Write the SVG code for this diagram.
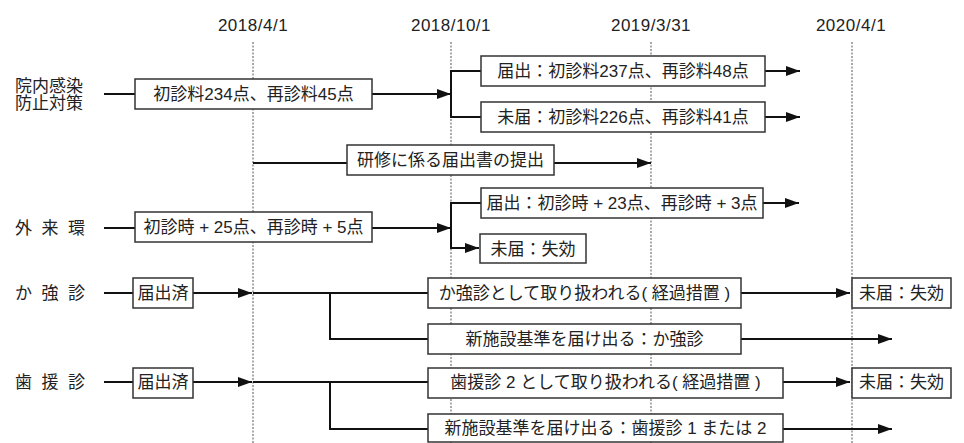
<svg xmlns="http://www.w3.org/2000/svg" width="964" height="443" viewBox="0 0 964 443">
<style>
text{font-family:"Liberation Sans","Noto Sans CJK JP",sans-serif;font-size:17px;fill:#222}
.c{text-anchor:middle}
.lab{letter-spacing:2.4px}
.box{fill:#fff;stroke:#333;stroke-width:1.5}
.grid{stroke:#555;stroke-width:1;stroke-dasharray:2 1.5;fill:none}
.ln{stroke:#111;stroke-width:2;fill:none}
.ar{marker-end:url(#ah)}
.date{text-anchor:middle;letter-spacing:0.5px}
</style>
<defs>
<marker id="ah" markerUnits="userSpaceOnUse" markerWidth="15" markerHeight="11" refX="14" refY="5" orient="auto" overflow="visible">
<path d="M0,0 L14,5 L0,10 z" fill="#111"/>
</marker>
</defs>
<rect width="964" height="443" fill="#fff"/>
<g id="axis">
<line class="grid" x1="253" y1="42" x2="253" y2="443"/>
<line class="grid" x1="451" y1="42" x2="451" y2="443"/>
<line class="grid" x1="651" y1="42" x2="651" y2="443"/>
<line class="grid" x1="852" y1="42" x2="852" y2="443"/>
<text class="date" x="253" y="31">2018/4/1</text>
<text class="date" x="451" y="31">2018/10/1</text>
<text class="date" x="651" y="31">2019/3/31</text>
<text class="date" x="851" y="31">2020/4/1</text>
</g>
<g id="labels">
<text x="15" y="91.5">院内感染</text>
<text x="15" y="109">防止対策</text>
<text class="lab" x="15" y="234">外 来 環</text>
<text class="lab" x="15" y="299">か 強 診</text>
<text class="lab" x="15" y="388">歯 援 診</text>
</g>
<g id="connectors">
<line class="ln" x1="104" y1="94" x2="135" y2="94"/>
<line class="ln ar" x1="372" y1="94" x2="451" y2="94"/>
<line class="ln" x1="451" y1="71" x2="451" y2="117"/>
<line class="ln" x1="450" y1="71" x2="481" y2="71"/>
<line class="ln" x1="450" y1="117" x2="481" y2="117"/>
<line class="ln ar" x1="765" y1="71" x2="800" y2="71"/>
<line class="ln ar" x1="765" y1="117" x2="800" y2="117"/>
<line class="ln" x1="253" y1="163" x2="347" y2="163"/>
<line class="ln ar" x1="554" y1="163" x2="651" y2="163"/>
<line class="ln" x1="104" y1="228" x2="135" y2="228"/>
<line class="ln ar" x1="372" y1="228" x2="451" y2="228"/>
<line class="ln" x1="451" y1="203" x2="451" y2="249"/>
<line class="ln" x1="450" y1="203" x2="481" y2="203"/>
<line class="ln ar" x1="450" y1="248" x2="479" y2="248"/>
<line class="ln ar" x1="763" y1="203" x2="799" y2="203"/>
<line class="ln" x1="104" y1="293" x2="133" y2="293"/>
<line class="ln ar" x1="193" y1="293" x2="252" y2="293"/>
<line class="ln" x1="253" y1="293" x2="428" y2="293"/>
<polyline class="ln" points="330,293 330,339 428,339"/>
<line class="ln ar" x1="741" y1="293" x2="850" y2="293"/>
<line class="ln ar" x1="741" y1="339" x2="892" y2="339"/>
<line class="ln" x1="104" y1="382" x2="133" y2="382"/>
<line class="ln ar" x1="193" y1="382" x2="252" y2="382"/>
<line class="ln" x1="253" y1="382" x2="428" y2="382"/>
<polyline class="ln" points="330,382 330,429 428,429"/>
<line class="ln ar" x1="783" y1="382" x2="850" y2="382"/>
<line class="ln ar" x1="783" y1="429" x2="892" y2="429"/>
</g>
<g id="n1"><rect class="box" x="135" y="79" width="237" height="30"/><text class="c" x="253.5" y="100">初診料234点、再診料45点</text></g>
<g id="n2"><rect class="box" x="481" y="56" width="284" height="30"/><text class="c" x="623" y="77">届出：初診料237点、再診料48点</text></g>
<g id="n3"><rect class="box" x="481" y="102" width="284" height="30"/><text class="c" x="623" y="123">未届：初診料226点、再診料41点</text></g>
<g id="n4"><rect class="box" x="347" y="145" width="207" height="30"/><text class="c" x="450.5" y="166">研修に係る届出書の提出</text></g>
<g id="n5"><rect class="box" x="135" y="212" width="237" height="30"/><text class="c" x="253.5" y="233">初診時 + 25点、再診時 + 5点</text></g>
<g id="n6"><rect class="box" x="481" y="188" width="282" height="30"/><text class="c" x="622" y="209">届出：初診時 + 23点、再診時 + 3点</text></g>
<g id="n7"><rect class="box" x="480" y="234" width="106" height="29"/><text class="c" x="533" y="254.5">未届：失効</text></g>
<g id="n8"><rect class="box" x="133" y="278" width="60" height="30"/><text class="c" x="163" y="299">届出済</text></g>
<g id="n9"><rect class="box" x="428" y="278" width="313" height="30"/><text class="c" x="584.5" y="299">か強診として取り扱われる( 経過措置 )</text></g>
<g id="n10"><rect class="box" x="852" y="278" width="99" height="30"/><text class="c" x="901.5" y="299">未届：失効</text></g>
<g id="n11"><rect class="box" x="428" y="324" width="313" height="30"/><text class="c" x="584.5" y="345">新施設基準を届け出る：か強診</text></g>
<g id="n12"><rect class="box" x="133" y="368" width="60" height="30"/><text class="c" x="163" y="388">届出済</text></g>
<g id="n13"><rect class="box" x="428" y="368" width="355" height="30"/><text class="c" x="605.5" y="388">歯援診 2 として取り扱われる( 経過措置 )</text></g>
<g id="n14"><rect class="box" x="852" y="368" width="99" height="30"/><text class="c" x="901.5" y="388">未届：失効</text></g>
<g id="n15"><rect class="box" x="428" y="414" width="355" height="28"/><text class="c" x="605.5" y="434">新施設基準を届け出る：歯援診 1 または 2</text></g>
</svg>
